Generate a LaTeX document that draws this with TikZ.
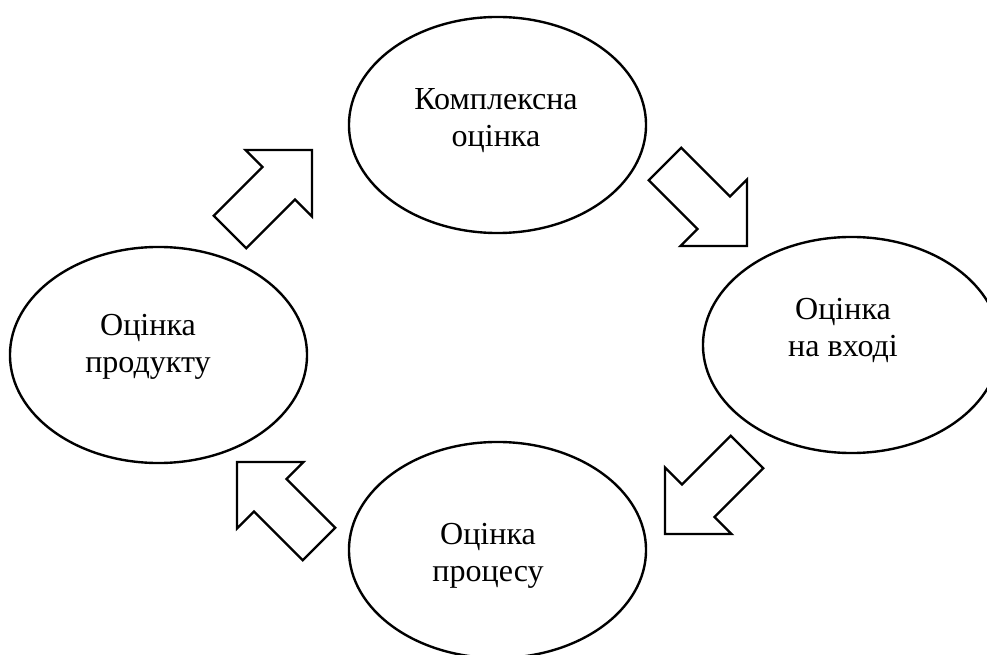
\documentclass[tikz,border=0pt]{standalone}
\usepackage{fontspec}
\setmainfont{Liberation Serif}
\usetikzlibrary{shapes.geometric}
\tikzset{
  oval/.style={draw, line width=1.7pt, ellipse, inner sep=0pt,
    minimum width=7.425cm, minimum height=5.4cm},
  napys/.style={align=center, inner sep=0pt,
    font=\fontsize{22.8}{26}\selectfont},
  blockarrow/.pic={
    \draw[line width=1.7pt] (0,0) -- (-47,47) -- (-47,23) -- (-116,23)
      -- (-116,-23) -- (-47,-23) -- (-47,-47) -- cycle;
  }
}
\begin{document}
\begin{tikzpicture}[x=0.025cm, y=-0.025cm]
                \useasboundingbox (0,0) rectangle (987,655);

                % Комплексна оцінка
                \node[oval] (kompl) at (497.5,125) {};
                \node[napys] (kompl-t) at (496,120.5) {Комплексна\\оцінка};
                % Оцінка на вході
                \node[oval] (vhid) at (851.5,345) {};
                \node[napys] (vhid-t) at (843,330.5) {Оцінка\\на вході};
                % Оцінка процесу
                \node[oval] (proc) at (497.5,550) {};
                \node[napys] (proc-t) at (488,556) {Оцінка\\процесу};
                % Оцінка продукту
                \node[oval] (prod) at (158.5,355) {};
                \node[napys] (prod-t) at (148,347) {Оцінка\\продукту};

                % Стрілки
                \pic[rotate=45] at (312,150) {blockarrow};
                \pic[rotate=-45] at (747,246) {blockarrow};
                \pic[rotate=-135] at (665,534) {blockarrow};
                \pic[rotate=135] at (237,462) {blockarrow};
            \end{tikzpicture}
\end{document}
